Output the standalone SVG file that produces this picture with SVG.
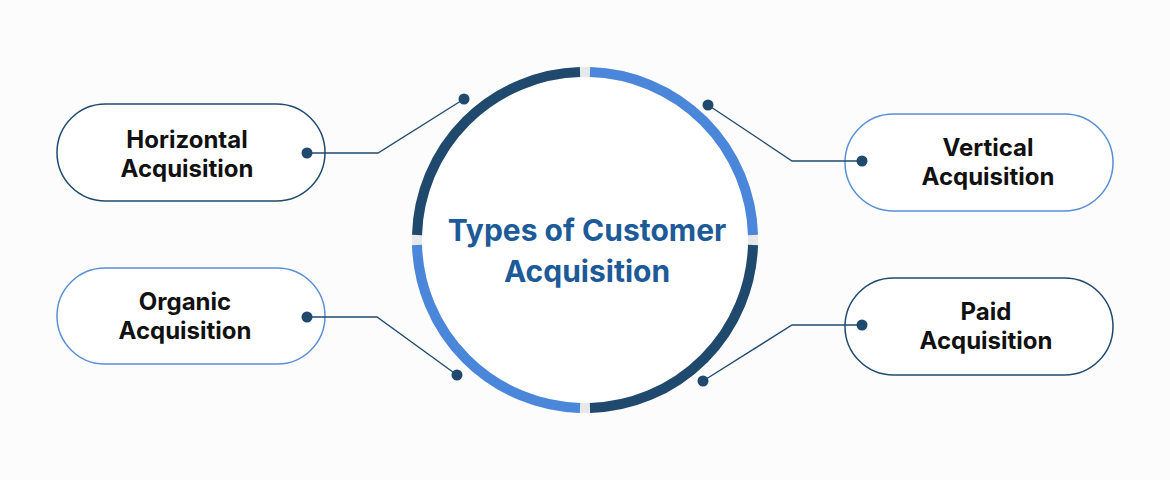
<svg xmlns="http://www.w3.org/2000/svg" width="1170" height="480" viewBox="0 0 1170 480">
<style>
.box{fill:#fff;stroke-width:1.5}
.dk{stroke:#1f4a6e}
.lt{stroke:#5b8fd6}
.lbl{font-family:Inter,"Liberation Sans",sans-serif;font-weight:700;font-size:24px;fill:#111;text-anchor:middle}
.ttl{font-family:Inter,"Liberation Sans",sans-serif;font-weight:700;font-size:30px;fill:#1d5a98;text-anchor:middle}
.ln{fill:none;stroke:#1f4a6e;stroke-width:1.3}
.dot{fill:#1f4a6e}
.arc{fill:none;stroke-width:10}
</style>
<rect width="1170" height="480" fill="#fcfcfd"/>
<g id="center">
<circle cx="585" cy="240" r="168" fill="#fff"/>
<path class="arc" stroke="#e6e8ea" d="M585 72 A168 168 0 1 1 584.9 72"/>
<path class="arc" stroke="#1f4a6e" d="M417 235 A168 168 0 0 1 580 72"/>
<path class="arc" stroke="#4a86d9" d="M590 72 A168 168 0 0 1 753 235"/>
<path class="arc" stroke="#1f4a6e" d="M753 245 A168 168 0 0 1 590 408"/>
<path class="arc" stroke="#4a86d9" d="M580 408 A168 168 0 0 1 417 245"/>
<text class="ttl" x="587" y="241">Types of Customer</text>
<text class="ttl" x="587" y="282">Acquisition</text>
</g>
<g id="horizontal"><rect class="box dk" x="57" y="104" width="268" height="97" rx="48.5"/><text class="lbl" x="187" y="148">Horizontal</text><text class="lbl" x="187" y="177">Acquisition</text></g>
<g id="vertical"><rect class="box lt" x="845" y="114" width="268" height="97" rx="48.5"/><text class="lbl" x="988" y="156">Vertical</text><text class="lbl" x="988" y="185">Acquisition</text></g>
<g id="organic"><rect class="box lt" x="57" y="268" width="268" height="96" rx="48"/><text class="lbl" x="185" y="310">Organic</text><text class="lbl" x="185" y="339">Acquisition</text></g>
<g id="paid"><rect class="box dk" x="845" y="278" width="268" height="97" rx="48.5"/><text class="lbl" x="986" y="320">Paid</text><text class="lbl" x="986" y="349">Acquisition</text></g>
<g id="connectors">
<polyline class="ln" points="307,153 378,153 464,99"/><circle class="dot" cx="307" cy="153" r="5.5"/><circle class="dot" cx="464" cy="99" r="5.5"/>
<polyline class="ln" points="708,105 792,161 862,161"/><circle class="dot" cx="708" cy="105" r="5.5"/><circle class="dot" cx="862" cy="161" r="5.5"/>
<polyline class="ln" points="307,317 377,317 457,375"/><circle class="dot" cx="307" cy="317" r="5.5"/><circle class="dot" cx="457" cy="375" r="5.5"/>
<polyline class="ln" points="703,381 792,325 862,325"/><circle class="dot" cx="703" cy="381" r="5.5"/><circle class="dot" cx="862" cy="325" r="5.5"/>
</g>
</svg>
